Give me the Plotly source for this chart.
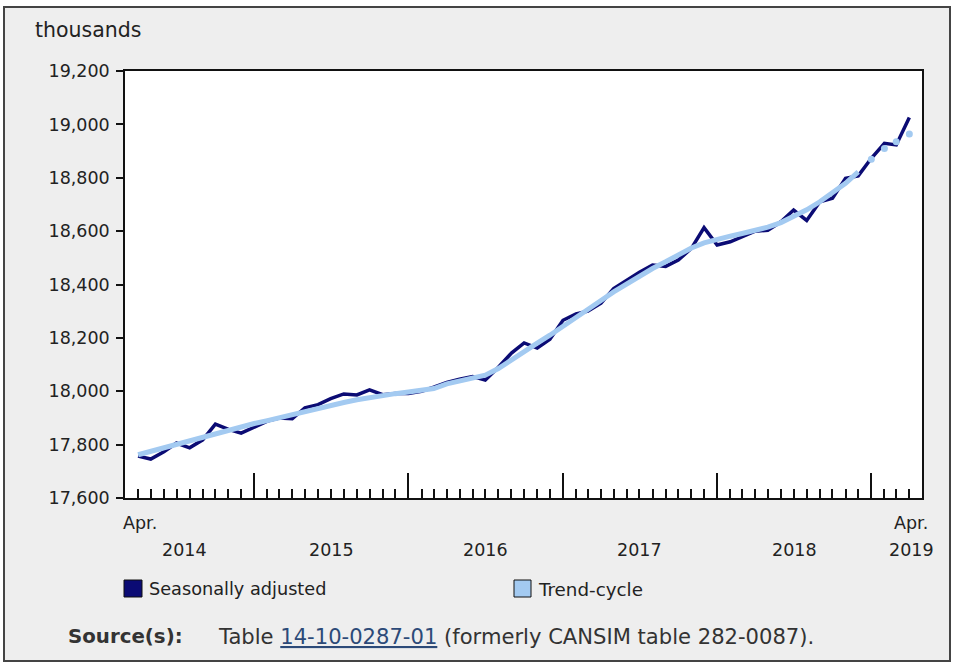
import plotly.graph_objects as go

# ---- data ----
months = [f"{2014 + (3 + i) // 12}-{(3 + i) % 12 + 1:02d}-01" for i in range(61)]  # Apr 2014 .. Apr 2019

seasonally_adjusted = [
    17757, 17746, 17773, 17806, 17788, 17818, 17877, 17857, 17843,          # Apr-Dec 2014
    17866, 17888, 17900, 17897, 17938, 17950, 17972, 17990, 17986, 18005, 17987, 17992,  # 2015
    17992, 18000, 18015, 18033, 18045, 18055, 18042, 18090, 18143, 18181, 18162, 18195,  # 2016
    18266, 18290, 18300, 18330, 18385, 18418, 18446, 18473, 18468, 18492, 18535, 18613,  # 2017
    18548, 18560, 18580, 18600, 18603, 18635, 18679, 18640, 18710, 18723, 18798, 18807,  # 2018
    18873, 18929, 18923, 19026,                                               # Jan-Apr 2019
]

trend_cycle = [
    17762, 17775, 17789, 17802, 17815, 17829, 17842, 17855, 17867,
    17879, 17890, 17901, 17912, 17923, 17935, 17947, 17958, 17968, 17977, 17985, 17991,
    17997, 18003, 18010, 18028, 18038, 18048, 18060, 18085, 18118, 18152, 18180, 18210,
    18242, 18276, 18308, 18340, 18372, 18403, 18433, 18460, 18485, 18512, 18537, 18556,
    18570, 18581, 18591, 18602, 18615, 18632, 18655, 18680, 18710, 18743, 18779, 18822,
    18869, 18910, 18935, 18964,
]
n_preliminary = 4  # last trend-cycle points shown as dots

year_labels = ["2014", "2015", "2016", "2017", "2018"]
year_label_x = ["2014-07-21", "2015-07-02", "2016-07-02", "2017-07-02", "2018-07-02"]
year_ticks = ["2015-01-01", "2016-01-01", "2017-01-01", "2018-01-01", "2019-01-01"]
y_ticks = list(range(17600, 19201, 200))

# ---- layout geometry ----
W, H = 960, 669
L, R, T, B = 125, 922, 71, 498
def px(x):
    return (x - L) / (R - L)
def py(y):
    return (B - y) / (B - T)

FONT = "DejaVu Sans, Verdana, sans-serif"
TXT = "#222222"
SA_COLOR = "#0b0b74"
TR_COLOR = "#a3caf1"

fig = go.Figure()
fig.add_trace(go.Scatter(x=months, y=seasonally_adjusted, mode="lines",
                         line=dict(color=SA_COLOR, width=3.5), name="Seasonally adjusted"))
k = len(trend_cycle) - n_preliminary
fig.add_trace(go.Scatter(x=months[:k], y=trend_cycle[:k], mode="lines",
                         line=dict(color=TR_COLOR, width=5), name="Trend-cycle"))
fig.add_trace(go.Scatter(x=months[k:], y=trend_cycle[k:], mode="markers",
                         marker=dict(color=TR_COLOR, size=7), name="Trend-cycle (prelim)"))

shapes = [
    dict(type="rect", xref="paper", yref="paper", x0=px(4), x1=px(950), y0=py(661), y1=py(7),
         fillcolor="#eeeeee", line=dict(color="#444444", width=2), layer="below"),
    dict(type="rect", xref="paper", yref="paper", x0=0, x1=1, y0=0, y1=1,
         fillcolor="white", line=dict(width=0), layer="below"),
    # legend boxes
    dict(type="rect", xref="paper", yref="paper", x0=px(124), x1=px(142), y0=py(597), y1=py(580),
         fillcolor=SA_COLOR, line=dict(color="#111111", width=1)),
    dict(type="rect", xref="paper", yref="paper", x0=px(514), x1=px(531), y0=py(597), y1=py(580),
         fillcolor=TR_COLOR, line=dict(color="#111111", width=1)),
]

ann = []
ann.append(dict(text="thousands", x=px(33), y=py(30), xref="paper", yref="paper",
                xanchor="left", yanchor="middle", showarrow=False, font=dict(size=20.5, color=TXT)))
for lab, xv in zip(year_labels, year_label_x):
    ann.append(dict(text=lab, x=xv, y=py(550), xref="x", yref="paper", showarrow=False,
                    xanchor="center", yanchor="middle", font=dict(size=17.5, color=TXT)))
ann.append(dict(text="Apr.", x=months[0], y=py(523), xref="x", yref="paper", showarrow=False,
                xanchor="center", yanchor="middle", xshift=2, font=dict(size=17.5, color=TXT)))
ann.append(dict(text="Apr.", x=months[-1], y=py(523), xref="x", yref="paper", showarrow=False,
                xanchor="center", yanchor="middle", xshift=2, font=dict(size=17.5, color=TXT)))
ann.append(dict(text="2019", x=months[-1], y=py(550), xref="x", yref="paper", showarrow=False,
                xanchor="center", yanchor="middle", xshift=2, font=dict(size=17.5, color=TXT)))
ann.append(dict(text="Seasonally adjusted", x=px(147), y=py(589), xref="paper", yref="paper",
                xanchor="left", yanchor="middle", showarrow=False, font=dict(size=17.7, color=TXT)))
ann.append(dict(text="Trend-cycle", x=px(536), y=py(589), xref="paper", yref="paper",
                xanchor="left", yanchor="middle", showarrow=False, font=dict(size=18.3, color=TXT)))
ann.append(dict(text="<b>Source(s):</b>", x=px(66), y=py(636), xref="paper", yref="paper",
                xanchor="left", yanchor="middle", showarrow=False, font=dict(size=19.8, color="#333333")))
src = ("Table <span style='color:#2c4a78;text-decoration:underline'>14-10-0287-01</span>"
       " (formerly CANSIM table 282-0087).")
ann.append(dict(text=src, x=px(216), y=py(636), xref="paper", yref="paper",
                xanchor="left", yanchor="middle", showarrow=False, font=dict(size=21.1, color="#333333")))

fig.update_layout(
    width=W, height=H,
    margin=dict(l=L, r=W - R, t=T, b=H - B, pad=0),
    paper_bgcolor="white", plot_bgcolor="white",
    font=dict(family=FONT, color=TXT, size=17),
    showlegend=False,
    shapes=shapes, annotations=ann,
    xaxis=dict(type="date", range=["2014-03-01", "2019-05-01"], showgrid=False, zeroline=False,
               showline=True, linecolor="#111111", linewidth=1.5, mirror=True,
               tickmode="array", tickvals=year_ticks, showticklabels=False,
               ticks="inside", ticklen=25, tickwidth=1.5, tickcolor="#111111",
               minor=dict(tickmode="linear", dtick="M1", tick0="2014-04-01",
                          ticks="inside", ticklen=9, tickwidth=1.5, tickcolor="#111111",
                          showgrid=False)),
    yaxis=dict(range=[17600, 19200], showgrid=False, zeroline=False,
               showline=True, linecolor="#111111", linewidth=1.5, mirror=True,
               tickmode="array", tickvals=y_ticks, tickformat=",d",
               ticks="outside", ticklen=7, tickwidth=1.5, tickcolor="#111111",
               ticklabelstandoff=3, tickfont=dict(size=17.5, color=TXT)),
)

fig.write_html("out.html", config={"displayModeBar": False},
               post_script="document.body.style.margin='0px';")
